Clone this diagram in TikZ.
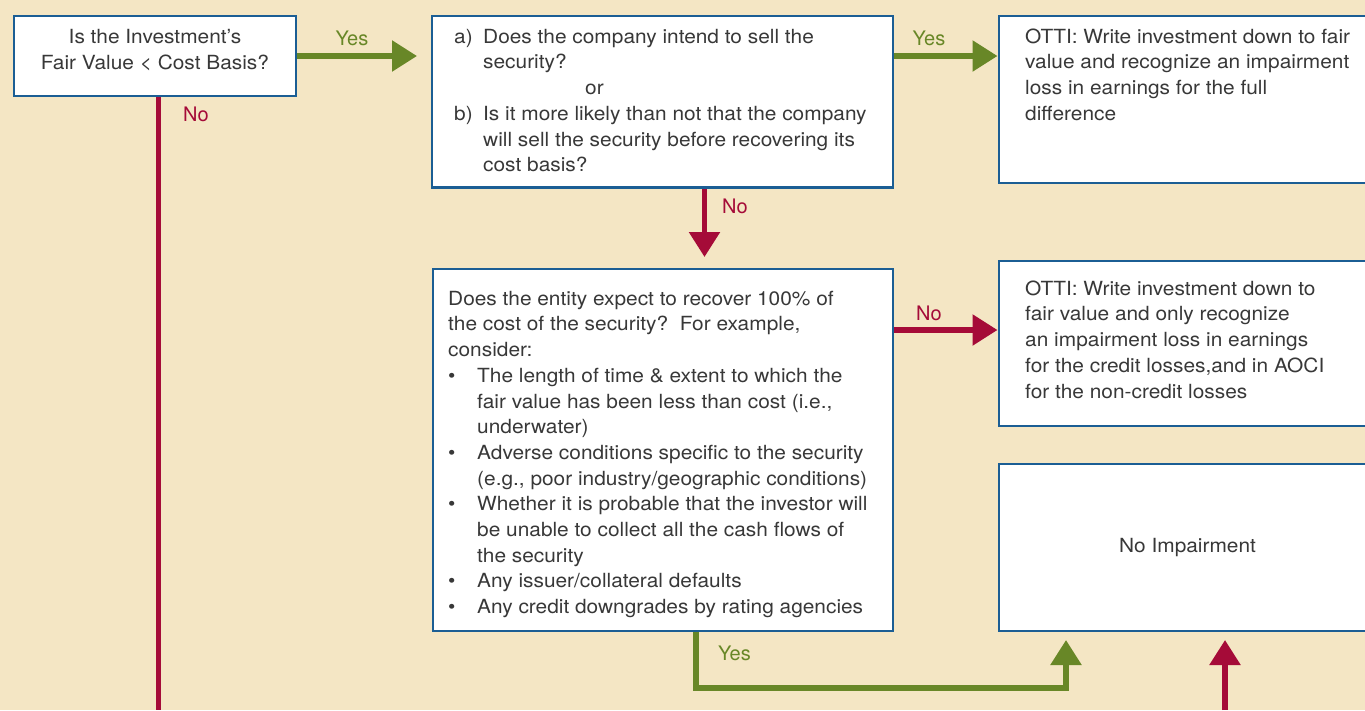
\documentclass[tikz,border=0pt]{standalone}
\usepackage{fontspec}
\setmainfont{TeX Gyre Heros}[FakeStretch=1.07]
\newfontfamily\lblfont{TeX Gyre Heros}
\usetikzlibrary{arrows.meta,calc}
\definecolor{bg}{HTML}{F4E6C4}
\definecolor{bordblue}{HTML}{1B5E94}
\definecolor{ygreen}{HTML}{688727}
\definecolor{nred}{HTML}{A50B38}
\definecolor{txtgray}{HTML}{383838}
\pgfdeclarelayer{bottom}
\pgfdeclarelayer{background}
\pgfsetlayers{bottom,background,main}
\begin{document}
\begin{tikzpicture}[x=1pt,y=-1pt,
  box/.style={draw=bordblue, line width=2.6pt, fill=white, rectangle, inner sep=0pt, outer sep=0pt, anchor=north west},
  body/.style={font=\fontsize{19.5}{25.7}\selectfont, text=txtgray, inner sep=0pt, align=left, anchor=north west},
  single/.style={font=\fontsize{19.5}{25.7}\selectfont, text=txtgray, inner sep=0pt, anchor=base},
  lbl/.style={font=\lblfont\fontsize{20}{24}\selectfont, inner sep=0pt, anchor=base},
  yesarrow/.style={draw=ygreen, line width=5.5pt, -{Triangle[length=25pt,width=30pt]}},
  noarrow/.style={draw=nred, line width=5.5pt, -{Triangle[length=25pt,width=30pt]}},
  noline/.style={draw=nred, line width=5.5pt},
]
\useasboundingbox (0,0) rectangle (1365,710);
\begin{pgfonlayer}{bottom}
\fill[bg] (0,0) rectangle (1365,710);
\end{pgfonlayer}
\clip (0,0) rectangle (1365,710);

% boxes
\node[box, minimum width=282pt, minimum height=80pt] (q1) at (14,16) {};
\node[box, minimum width=461pt, minimum height=171.5pt] (q2) at (432,16) {};
\node[box, minimum width=377pt, minimum height=167pt] (r1) at (999,16) {};
\node[box, minimum width=460pt, minimum height=362pt] (q3) at (433,269) {};
\node[box, minimum width=377pt, minimum height=165pt] (r2) at (999,261) {};
\node[box, minimum width=377pt, minimum height=167pt] (r3) at (999,464) {};

% texts
\node[body, align=center, anchor=north] (t1) at (155,28.5)
  {\rule{0pt}{15pt}Is the Investment’s\\Fair Value < Cost Basis?};
\node[body] (t2) at (454,28)
  {\rule{0pt}{15pt}\makebox[29pt][l]{a)}Does the company intend to sell the\\
   \hspace*{29pt}security?\\
   \hspace*{131pt}or\\
   \makebox[29pt][l]{b)}Is it more likely than not that the company\\
   \hspace*{29pt}will sell the security before recovering its\\
   \hspace*{29pt}cost basis?};
\node[body] (t3) at (1025,28)
  {\rule{0pt}{15pt}OTTI: Write investment down to fair\\
   value and recognize an impairment\\
   loss in earnings for the full\\
   difference};
\node[body] (t4) at (448,290)
  {\rule{0pt}{15pt}Does the entity expect to recover 100\% of\\
   the cost of the security?\ \ For example,\\
   consider:\\
   \makebox[29pt][l]{\textbullet}The length of time \& extent to which the\\
   \hspace*{29pt}fair value has been less than cost (i.e.,\\
   \hspace*{29pt}underwater)\\
   \makebox[29pt][l]{\textbullet}Adverse conditions specific to the security\\
   \hspace*{29pt}(e.g., poor industry/geographic conditions)\\
   \makebox[29pt][l]{\textbullet}Whether it is probable that the investor will\\
   \hspace*{29pt}be unable to collect all the cash flows of\\
   \hspace*{29pt}the security\\
   \makebox[29pt][l]{\textbullet}Any issuer/collateral defaults\\
   \makebox[29pt][l]{\textbullet}Any credit downgrades by rating agencies};
\node[body] (t5) at (1025,280)
  {\rule{0pt}{15pt}OTTI: Write investment down to\\
   fair value and only recognize\\
   an impairment loss in earnings\\
   for the credit losses,and in AOCI\\
   for the non-credit losses};
\node[single] (t6) at (1187.5,552) {No Impairment};

% labels
\node[lbl, text=ygreen] (l1) at (352,45) {Yes};
\node[lbl, text=nred] (l2) at (196,121) {No};
\node[lbl, text=ygreen] (l3) at (929,45) {Yes};
\node[lbl, text=nred] (l4) at (735,213) {No};
\node[lbl, text=nred] (l5) at (929,320) {No};
\node[lbl, text=ygreen] (l6) at (734.5,660) {Yes};

% connectors
\coordinate (nx) at (704.5,0);
\coordinate (ny) at (0,330);
\coordinate (gx) at (696,0);
\coordinate (gc) at (1066,688);
\coordinate (b1) at (158.5,710);
\coordinate (b2) at (1225,710);
\begin{pgfonlayer}{background}
\draw[yesarrow, shorten >=15pt] (q1.east) -- (q1.east -| q2.west);
\draw[yesarrow, shorten >=1.5pt] (q2.east |- q1.east) -- (r1.west |- q1.east);
\draw[noarrow, shorten >=12pt] (q2.south -| nx) -- (q3.north -| nx);
\draw[noarrow, shorten >=1.5pt] (q3.east |- ny) -- (r2.west |- ny);
\draw[yesarrow, shorten >=9pt] (q3.south -| gx) |- (gc) -- (r3.south -| gc);
\draw[noarrow, shorten >=9pt] (b2) -- (r3.south -| b2);
\draw[noline] (q1.south -| b1) -- (b1);
\end{pgfonlayer}
\end{tikzpicture}
\end{document}
